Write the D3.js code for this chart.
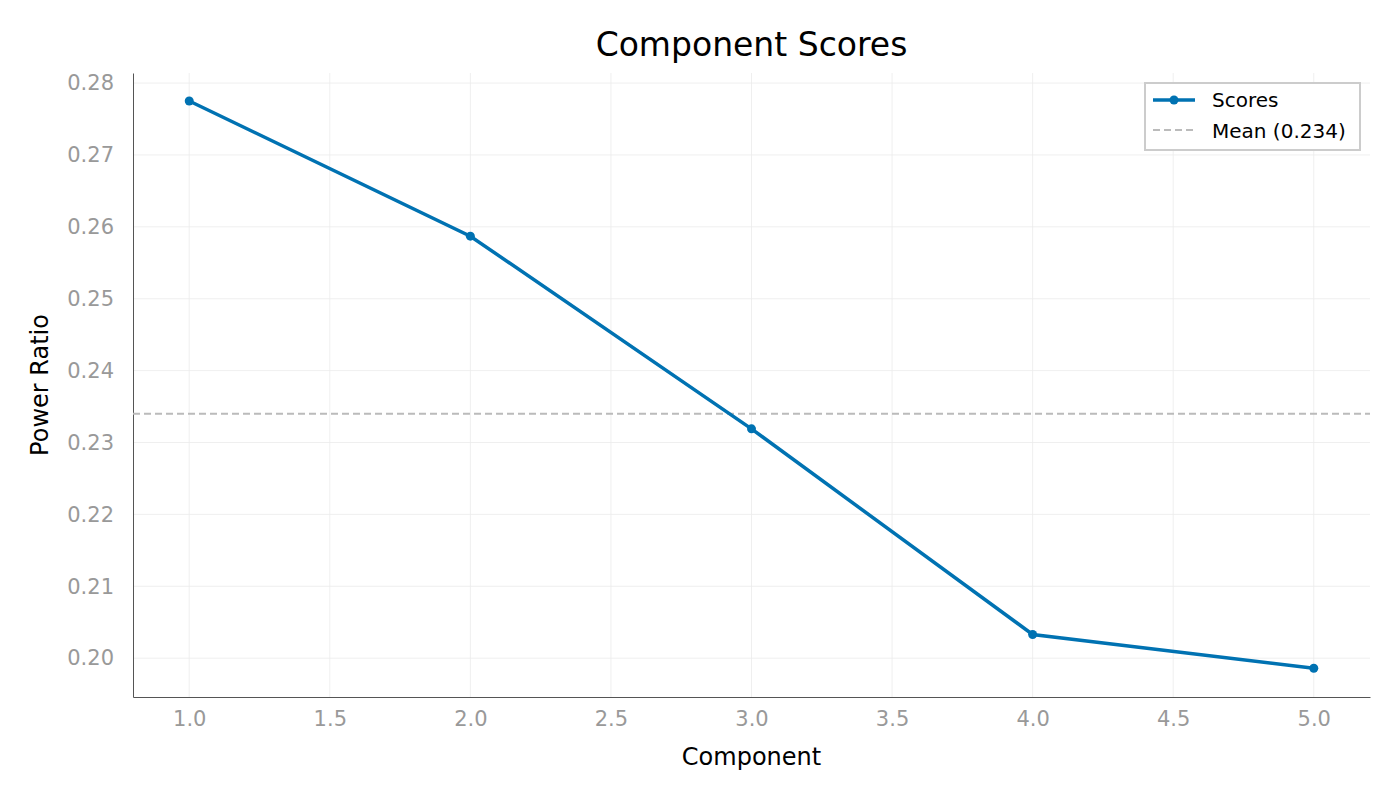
<!DOCTYPE html>
<html>
<head>
<meta charset="utf-8">
<script src="https://cdn.jsdelivr.net/npm/d3@7"></script>
<style>
  body { margin: 0; background: #fff; }
  text { font-family: "DejaVu Sans", sans-serif; }
</style>
</head>
<body>
<script>
// data
const components = [1, 2, 3, 4, 5];
const scores = [0.2775, 0.2587, 0.2319, 0.2033, 0.1986];
const meanValue = 0.234;
const xTicks = [1.0, 1.5, 2.0, 2.5, 3.0, 3.5, 4.0, 4.5, 5.0];
const yTicks = [0.20, 0.21, 0.22, 0.23, 0.24, 0.25, 0.26, 0.27, 0.28];

const canvWidth = 1400, canvHeight = 800;
const margin = {top: 73, right: 30, bottom: 103, left: 133};
const width = canvWidth - margin.left - margin.right;
const height = canvHeight - margin.top - margin.bottom;

const svg = d3.select("body").append("svg")
    .attr("width", canvWidth)
    .attr("height", canvHeight);

const g = svg.append("g")
    .attr("transform", `translate(${margin.left},${margin.top})`);

const xScale = d3.scaleLinear().domain([0.8, 5.2]).range([0, width]);
const yScale = d3.scaleLinear().domain([0.1946, 0.2814]).range([height, 0]);

// grid
g.append("g").selectAll("line").data(xTicks).enter().append("line")
    .attr("x1", d => xScale(d)).attr("x2", d => xScale(d))
    .attr("y1", 0).attr("y2", height)
    .attr("stroke", "#ebebeb").attr("stroke-width", 0.8);
g.append("g").selectAll("line").data(yTicks).enter().append("line")
    .attr("y1", d => yScale(d)).attr("y2", d => yScale(d))
    .attr("x1", 0).attr("x2", width)
    .attr("stroke", "#ebebeb").attr("stroke-width", 0.8);

// axes
const xAxis = g.append("g")
    .attr("transform", `translate(0,${height})`)
    .call(d3.axisBottom(xScale).tickValues(xTicks).tickFormat(d3.format(".1f")).tickSize(0).tickPadding(14));
const yAxis = g.append("g")
    .call(d3.axisLeft(yScale).tickValues(yTicks).tickFormat(d3.format(".2f")).tickSize(0).tickPadding(19));
[xAxis, yAxis].forEach(a => {
  a.select(".domain").attr("stroke", "#555");
  a.selectAll("text").attr("fill", "#999").attr("font-size", 21);
});

// mean line
g.append("line")
    .attr("x1", 0).attr("x2", width)
    .attr("y1", yScale(meanValue)).attr("y2", yScale(meanValue))
    .attr("stroke", "#bbb").attr("stroke-width", 2).attr("stroke-dasharray", "7,4");

// scores line
const line = d3.line().x((d, i) => xScale(components[i])).y(d => yScale(d));
g.append("path").datum(scores)
    .attr("d", line).attr("fill", "none")
    .attr("stroke", "#0072b2").attr("stroke-width", 3.5);
g.selectAll(".pt").data(scores).enter().append("circle")
    .attr("class", "pt")
    .attr("cx", (d, i) => xScale(components[i]))
    .attr("cy", d => yScale(d))
    .attr("r", 4.5).attr("fill", "#0072b2");

// titles
svg.append("text").attr("x", margin.left + width / 2).attr("y", 56)
    .attr("text-anchor", "middle").attr("font-size", 33).text("Component Scores");
svg.append("text").attr("x", margin.left + width / 2).attr("y", 765)
    .attr("text-anchor", "middle").attr("font-size", 24).text("Component");
svg.append("text")
    .attr("transform", `translate(48,${margin.top + height / 2}) rotate(-90)`)
    .attr("text-anchor", "middle").attr("font-size", 24).text("Power Ratio");

// legend
const lg = svg.append("g").attr("transform", "translate(1145,83)");
lg.append("rect").attr("width", 215).attr("height", 67)
    .attr("fill", "#fff").attr("stroke", "#ccc").attr("stroke-width", 2);
lg.append("line").attr("x1", 8).attr("x2", 50).attr("y1", 17).attr("y2", 17)
    .attr("stroke", "#0072b2").attr("stroke-width", 3.5);
lg.append("circle").attr("cx", 29).attr("cy", 17).attr("r", 4.5).attr("fill", "#0072b2");
lg.append("line").attr("x1", 8).attr("x2", 50).attr("y1", 47).attr("y2", 47)
    .attr("stroke", "#bbb").attr("stroke-width", 2).attr("stroke-dasharray", "7,4");
lg.append("text").attr("x", 67).attr("y", 24).attr("font-size", 20).text("Scores");
lg.append("text").attr("x", 67).attr("y", 55).attr("font-size", 20).text("Mean (0.234)");
</script>
</body>
</html>
